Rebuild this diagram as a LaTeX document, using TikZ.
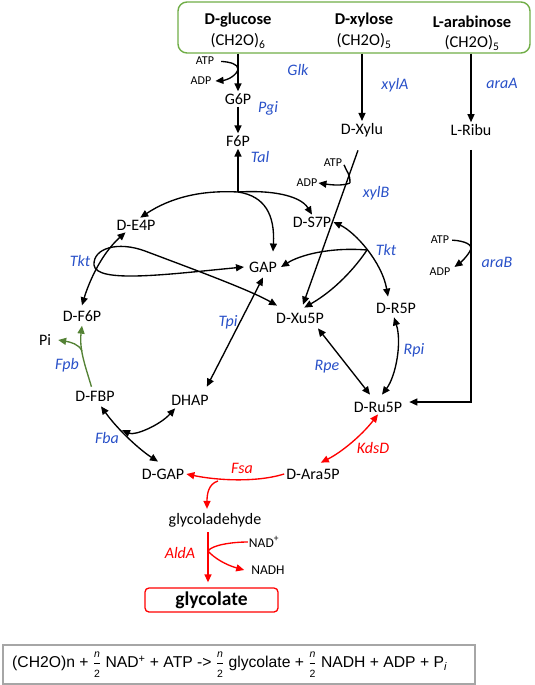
\documentclass[tikz,border=0pt]{standalone}
\usepackage{fontspec}
\usepackage{amsmath}
\setmainfont{Carlito}
\newfontfamily\arialfont{Liberation Sans}
\usetikzlibrary{arrows.meta}
\definecolor{enzblue}{RGB}{40,80,200}
\definecolor{boxgreen}{RGB}{112,173,71}
\definecolor{fpbgreen}{RGB}{84,130,53}
\definecolor{eqgray}{RGB}{166,166,166}
\definecolor{pathred}{RGB}{255,0,0}
\newcommand{\nhalf}{$\genfrac{}{}{0.4pt}{0}{\hbox{\fontsize{10.5}{11}\selectfont\itshape n}}{\hbox{\fontsize{10.5}{11}\selectfont 2}}$}
\begin{document}
\begin{tikzpicture}[x=1pt,y=-1pt,
  met/.style={font=\fontsize{16}{19}\selectfont, inner sep=2pt},
  title/.style={font=\fontsize{16.5}{19}\selectfont\bfseries, inner sep=1pt},
  formula/.style={font=\fontsize{16.5}{19}\selectfont, inner sep=1pt},
  enz/.style={font=\fontsize{16}{19}\selectfont\itshape, text=enzblue, inner sep=1pt},
  renz/.style={font=\fontsize{16}{19}\selectfont\itshape, text=pathred, inner sep=1pt},
  sml/.style={font=\fontsize{12}{14}\selectfont, inner sep=1pt},
  line/.style={line width=1.35pt},
  arr/.style={line, -{Triangle[length=8pt,width=7pt]}},
  darr/.style={line, {Triangle[length=8pt,width=7pt]}-{Triangle[length=8pt,width=7pt]}}
]
\useasboundingbox (0,0) rectangle (535,685);

% source box
\node[draw=boxgreen, line width=1.4pt, rounded corners=9pt, minimum width=352pt, minimum height=51pt, inner sep=0pt] (src) at (354,27.5) {};
\node[title] (glc) at (238,20) {D-glucose};
\node[formula] (glcf) at (238,41) {(CH2O)\textsubscript{6}};
\node[title] (xyl) at (364,20) {D-xylose};
\node[formula] (xylf) at (364,41) {(CH2O)\textsubscript{5}};
\node[title] (ara) at (472,22) {L-arabinose};
\node[formula] (araf) at (472,43) {(CH2O)\textsubscript{5}};

% metabolites
\node[met] (G6P) at (238,99) {G6P};
\node[met] (F6P) at (238,141) {F6P};
\node[met] (Xylu) at (362,130) {D-Xylu};
\node[met] (Ribu) at (471,130) {L-Ribu};
\node[met] (E4P) at (136,225) {D-E4P};
\node[met] (S7P) at (312,222) {D-S7P};
\node[met] (GAP) at (263,267) {GAP};
\node[met] (DF6P) at (82,316) {D-F6P};
\node[met] (Xu5P) at (300,318) {D-Xu5P};
\node[met] (R5P) at (396,308) {D-R5P};
\node[met] (Pi) at (45,340) {Pi};
\node[met] (FBP) at (95,396) {D-FBP};
\node[met] (DHAP) at (190,400) {DHAP};
\node[met] (Ru5P) at (378,407) {D-Ru5P};
\node[met] (DGAP) at (163,474) {D-GAP};
\node[met] (Ara5P) at (313,474) {D-Ara5P};
\node[met] (glyald) at (215,520) {glycoladehyde};
\node[draw=pathred, line width=1.3pt, rounded corners=4pt, minimum width=133pt, minimum height=24pt, inner sep=0pt, font=\fontsize{19.5}{22}\selectfont\bfseries] (glyc) at (211.5,600) {glycolate};

% cofactors
\node[sml] (atp1) at (205,61) {ATP};
\node[sml] (adp1) at (201,81) {ADP};
\node[sml] (atp2) at (333,163) {ATP};
\node[sml] (adp2) at (307,183) {ADP};
\node[sml] (atp3) at (440,240) {ATP};
\node[sml] (adp3) at (440,272) {ADP};
\node[font=\fontsize{13.5}{15}\selectfont, inner sep=1pt] (nad) at (264,542) {NAD\textsuperscript{+}};
\node[font=\fontsize{13.5}{15}\selectfont, inner sep=1pt] (nadh) at (268,570) {NADH};

% enzymes
\node[enz] (glk) at (298,70) {Glk};
\node[enz] (pgi) at (268,108) {Pgi};
\node[enz] (tal) at (260,157) {Tal};
\node[enz] (xyla) at (395,85) {xylA};
\node[enz] (araa) at (502,83) {araA};
\node[enz] (xylb) at (376,193) {xylB};
\node[enz] (tkt1) at (80,261) {Tkt};
\node[enz] (tkt2) at (386,250) {Tkt};
\node[enz] (arab) at (497,262) {araB};
\node[enz] (tpi) at (228,322) {Tpi};
\node[enz] (rpi) at (414,350) {Rpi};
\node[enz] (rpe) at (327,367) {Rpe};
\node[enz] (fpb) at (67,365) {Fpb};
\node[enz] (fba) at (107,438) {Fba};
\node[renz] (kdsd) at (373,448) {KdsD};
\node[renz] (fsa) at (242,468) {Fsa};
\node[renz] (alda) at (180,553) {AldA};

% junction points
\coordinate (k1) at (238,69);
\coordinate (J1) at (238,192);
\coordinate (k2) at (350,183);
\coordinate (J2) at (367,250);
\coordinate (k3) at (471,249);
\coordinate (J3) at (218,481);
\coordinate (J4) at (122,430);
\coordinate (J5) at (82,351);
\coordinate (k4) at (208,551);

% glucose branch
\draw[arr] (src.south -| G6P) -- (G6P);
\draw[line, shorten <=6pt] (atp1.east) .. controls (230,62) and (238,64) .. (k1);
\draw[arr] (k1) .. controls (237,75) and (228,80) .. ([xshift=3pt]adp1.east);
\draw[arr] (G6P) -- (F6P);
\draw[arr] (J1) -- (F6P);
\draw[arr] (J1) .. controls (200,190) and (170,198) .. (E4P.60);
\draw[arr] (J1) .. controls (270,190) and (300,195) .. (S7P.north);
\draw[arr] (J1) .. controls (265,196) and (275,215) .. ([xshift=10pt,yshift=8pt]GAP.north);

% xylose branch
\draw[arr] (src.south -| Xylu) -- (Xylu);
\draw[arr, shorten <=12pt] (Xylu.south) -- ([xshift=3pt,yshift=6pt]Xu5P.north);
\draw[line, shorten <=2pt] (atp2.east) .. controls (346,170) and (351,176) .. (k2);
\draw[arr] (k2) .. controls (343,186) and (332,185) .. (adp2.east);

% arabinose branch
\draw[arr] (src.south -| Ribu) -- (Ribu);
\draw[arr, shorten <=12pt] (Ribu.south) |- ([xshift=5pt,yshift=5pt]Ru5P.east);
\draw[line, shorten <=2pt] (atp3.east) .. controls (466,241) and (472,245) .. (k3);
\draw[arr] (k3) .. controls (468,256) and (460,263) .. ([xshift=3pt]adp3.north east);

% transketolase / transaldolase
\draw[darr] (E4P.215) .. controls (100,255) and (88,285) .. ([yshift=3pt]DF6P.north);
\draw[darr] ([xshift=-3pt]GAP.west) .. controls (170,274) and (96,284) .. (94,265)
  .. controls (93,248) and (118,241) .. (145,251)
  .. controls (190,268) and (250,290) .. ([xshift=3pt,yshift=5pt]Xu5P.north west);
\draw[arr] (J2) .. controls (330,247) and (300,255) .. ([xshift=2pt]GAP.east);
\draw[arr] (J2) .. controls (355,268) and (335,290) .. ([yshift=3pt]Xu5P.60);
\draw[darr] (S7P.east) .. controls (355,232) and (382,262) .. ([xshift=-8pt,yshift=4pt]R5P.north);
\draw[darr] ([xshift=-2pt,yshift=-2pt]R5P.south) .. controls (402,342) and (396,376) .. ([xshift=4pt,yshift=5pt]Ru5P.north);
\draw[darr] ([xshift=-8pt,yshift=-3pt]Xu5P.south east) -- ([xshift=-8pt,yshift=5pt]Ru5P.north);
\draw[darr] ([yshift=-3pt]GAP.south) -- ([xshift=-4pt,yshift=6pt]DHAP.north east);

% gluconeogenic side
\draw[darr] ([xshift=6pt,yshift=-3pt]FBP.south) .. controls (118,430) and (140,450) .. ([xshift=-5pt,yshift=5pt]DGAP.north);
\draw[darr] (J4) .. controls (135,436) and (160,425) .. ([xshift=6pt,yshift=-1pt]DHAP.south west);
\draw[fpbgreen, line width=1.35pt, -{Triangle[length=8pt,width=7pt]}, shorten <=2pt] ([xshift=-3pt]FBP.north) .. controls (86,368) and (79,350) .. ([yshift=-2pt]DF6P.south);
\draw[fpbgreen, line width=1.35pt, -{Triangle[length=8pt,width=7pt]}] (J5) .. controls (79,344) and (70,342) .. ([xshift=5pt]Pi.east);

% red pathway
\draw[darr, pathred] (Ru5P.south) .. controls (362,435) and (342,452) .. ([xshift=-21pt,yshift=4pt]Ara5P.north east);
\draw[arr, pathred] (Ara5P.west) .. controls (255,483) and (215,480) .. (DGAP.east);
\draw[arr, pathred] (J3) .. controls (208,484) and (207,495) .. ([xshift=-8pt,yshift=2pt]glyald.north);
\draw[arr, pathred, shorten <=3pt, shorten >=5pt] ([xshift=-7pt]glyald.south) -- ([xshift=-3.5pt]glyc.north);
\draw[line, pathred] (nad.west) .. controls (232,542) and (212,545) .. (k4);
\draw[arr, pathred] (k4) .. controls (214,558) and (226,565) .. ([xshift=-6pt]nadh.west);

% overall equation
\node[draw=eqgray, line width=1.4pt, minimum width=472pt, minimum height=39pt, inner sep=0pt] (eqbox) at (239,664.5) {};
\node[anchor=west, inner sep=0pt, font=\arialfont\fontsize{15.7}{18}\selectfont] (eq) at (12,664.5)
  {(CH2O)n + \nhalf\ NAD\textsuperscript{+} + ATP -> \nhalf\ glycolate + \nhalf\ NADH + ADP + P\textsubscript{\textit{i}}};
\end{tikzpicture}
\end{document}
